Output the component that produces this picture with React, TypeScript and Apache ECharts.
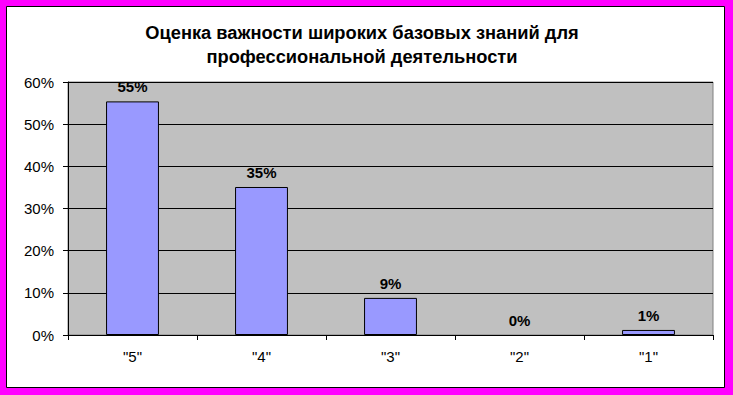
import React, { useEffect, useRef } from "react";
import * as echarts from "echarts";

const titleLines = ["Оценка важности широких базовых знаний для", "профессиональной деятельности"];
const categories = ['"5"', '"4"', '"3"', '"2"', '"1"'];
const values = [55.4, 35.1, 8.8, 0, 1.2];
const yTicks = { min: 0, max: 60, interval: 10 };

const FONT = "Liberation Sans, Arial, sans-serif";

export default function App() {
  const ref = useRef<HTMLDivElement>(null);
  useEffect(() => {
    if (!ref.current) return;
    const chart = echarts.init(ref.current, undefined, { renderer: "svg" });
    chart.setOption({
      animation: false,
      backgroundColor: "#FF00FF",
      textStyle: { fontFamily: FONT },
      graphic: [
        {
          type: "rect",
          z: -100,
          shape: { x: 6.5, y: 6.5, width: 718, height: 381 },
          style: { fill: "#FFFFFF", stroke: "#000000", lineWidth: 1 },
        },
        ...titleLines.map((t, i) => ({
          type: "text",
          x: 362,
          y: 32 + i * 24,
          style: {
            text: t,
            fill: "#000",
            font: `bold 18.3px ${FONT}`,
            textAlign: "center",
            textVerticalAlign: "middle",
          },
        })),
      ],
      grid: {
        left: 68,
        top: 82,
        right: 20,
        bottom: 60,
        show: true,
        backgroundColor: "#C0C0C0",
        borderColor: "#808080",
        borderWidth: 1,
      },
      xAxis: {
        type: "category",
        data: categories,
        axisLine: { lineStyle: { color: "#000", width: 1 } },
        axisTick: { show: true, length: 5, lineStyle: { color: "#000" } },
        axisLabel: {
          color: "#000",
          fontSize: 15,
          margin: 14,
          fontFamily: FONT,
        },
      },
      yAxis: {
        type: "value",
        min: yTicks.min,
        max: yTicks.max,
        interval: yTicks.interval,
        axisLine: { show: true, lineStyle: { color: "#000", width: 1 } },
        axisTick: { show: true, length: 5, lineStyle: { color: "#000" } },
        splitLine: { show: true, lineStyle: { color: "#000", width: 1 } },
        axisLabel: {
          formatter: "{value}%",
          color: "#000",
          fontSize: 15,
          margin: 14,
          fontFamily: FONT,
        },
      },
      series: [
        {
          type: "bar",
          data: values.map((v) =>
            v === 0
              ? { value: v, itemStyle: { color: "transparent", borderColor: "transparent", borderWidth: 0 } }
              : v
          ),
          barWidth: "41%",
          itemStyle: { color: "#9999FF", borderColor: "#000", borderWidth: 1 },
          label: {
            show: true,
            position: "top",
            distance: 7,
            formatter: (p: any) => Math.round(p.value) + "%",
            color: "#000",
            fontSize: 15,
            fontWeight: "bold",
            fontFamily: FONT,
          },
        },
      ],
    });
    return () => chart.dispose();
  }, []);
  return (
    <div
      ref={ref}
      style={{ position: "absolute", left: 0, top: 0, width: 733, height: 395 }}
    />
  );
}
